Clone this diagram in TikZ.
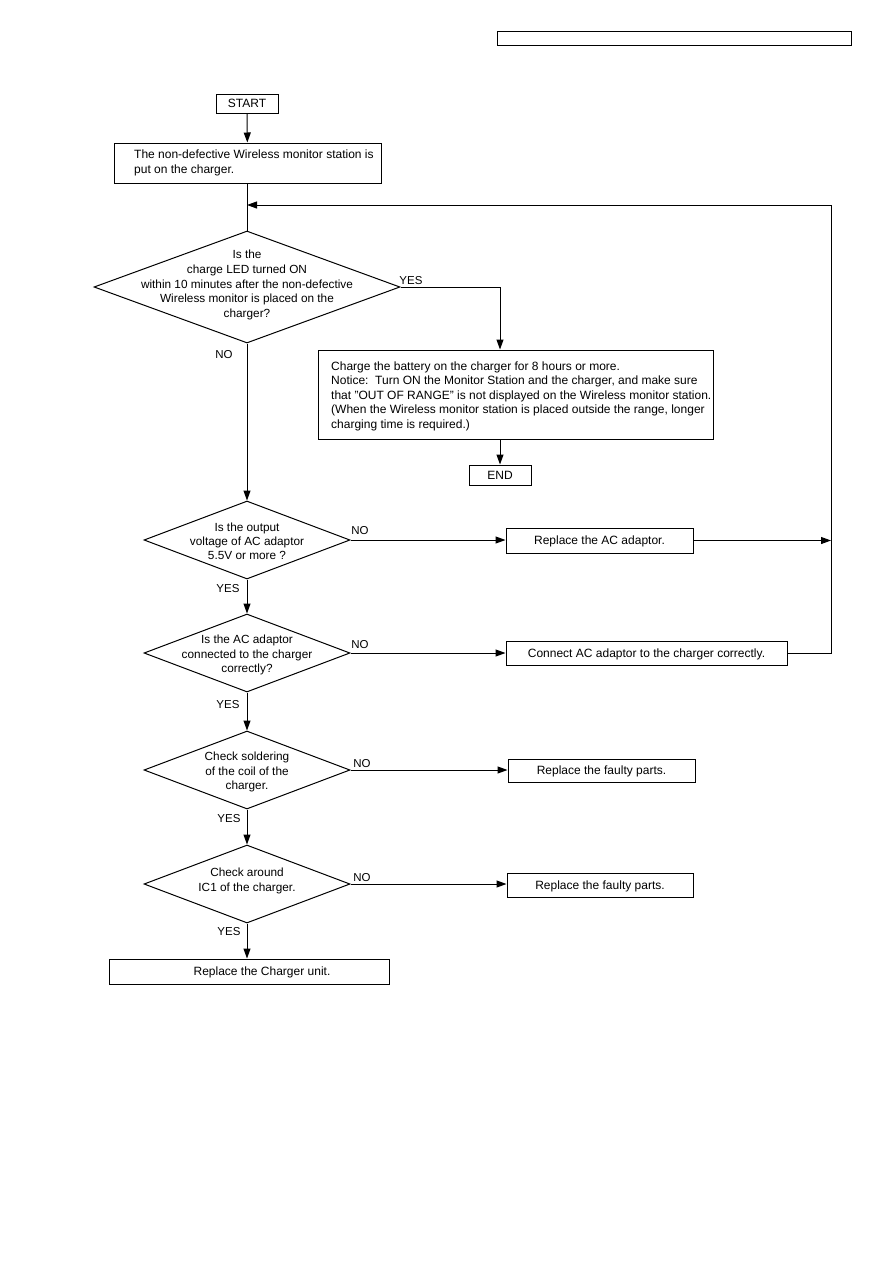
\documentclass[tikz,border=0pt]{standalone}
\usepackage{fontspec}
\setmainfont{Liberation Sans}
\usetikzlibrary{shapes.geometric,arrows.meta,calc}
\begin{document}
\begin{tikzpicture}[x=1pt,y=-1pt,
  every node/.style={font=\fontsize{12}{14.7}\selectfont, inner sep=0pt},
  box/.style={draw, line width=1pt, rectangle, inner sep=0pt, text height=8.6pt, text depth=0pt},
  dia/.style={draw, diamond, line width=1pt, inner sep=0pt},
  dtxt/.style={align=center, font=\fontsize{11.8}{14.2}\selectfont},
  lbl/.style={font=\fontsize{11.5}{13}\selectfont, text height=8.3pt, text depth=0pt},
  ln/.style={line width=1pt},
  arr/.style={line width=1pt, -{Triangle[length=10pt,width=7pt]}},
]
\useasboundingbox (0,0) rectangle (893,1263);

% header box
\node[box, minimum width=354, minimum height=14] (hdr) at (674,39) {};

% start and first box
\node[box, minimum width=62, minimum height=19] (start) at (247,103.5) {START};
\node[box, minimum width=267, minimum height=40] (b1) at (247.5,163) {};
\node[anchor=west, align=left] (b1t) at (134,163) {The non-defective Wireless monitor station is\\put on the charger.};

\coordinate (j1) at (247,205);
\coordinate (r1) at (831,205);

% decision 1
\node[dia, minimum width=306, minimum height=112] (d1) at (247,287) {};
\node[dtxt, font=\fontsize{11.8}{14.7}\selectfont] (d1t) at (247,285) {Is the\\charge LED turned ON\\within 10 minutes after the non-defective\\Wireless monitor is placed on the\\charger?};
\node[lbl] (yes1) at (411,280) {YES};
\node[lbl] (no1) at (224,354) {NO};
\coordinate (c1) at (500,287);

% charge box and end
\node[box, minimum width=395, minimum height=89] (b2) at (515.5,394.5) {};
\node[anchor=west, align=left, font=\fontsize{12}{14.5}\selectfont] (b2t) at (331,396) {Charge the battery on the charger for 8 hours or more.\\Notice:\ \ Turn ON the Monitor Station and the charger, and make sure\\that "OUT OF RANGE" is not displayed on the Wireless monitor station.\\(When the Wireless monitor station is placed outside the range, longer\\charging time is required.)};
\node[box, minimum width=62, minimum height=20] (end) at (500,475) {END};

% decision 2
\node[dia, minimum width=206, minimum height=78] (d2) at (247,540) {};
\node[dtxt] (d2t) at (247,541) {Is the output\\voltage of AC adaptor\\5.5V or more ?};
\node[lbl] (no2) at (360,530) {NO};
\node[lbl] (yes2) at (228,588) {YES};
\node[box, minimum width=187, minimum height=25] (rac) at (599.5,540.5) {Replace the AC adaptor.};
\coordinate (r2) at (831,540.5);

% decision 3
\node[dia, minimum width=206, minimum height=78] (d3) at (247,653) {};
\node[dtxt] (d3t) at (247,655) {Is the AC adaptor\\connected to the charger\\correctly?};
\node[lbl] (no3) at (360,644) {NO};
\node[lbl] (yes3) at (228,704) {YES};
\node[box, minimum width=281, minimum height=24] (cac) at (646.5,653) {Connect AC adaptor to the charger correctly.};

% decision 4
\node[dia, minimum width=206, minimum height=78] (d4) at (247,770) {};
\node[dtxt] (d4t) at (247,772) {Check soldering\\of the coil of the\\charger.};
\node[lbl] (no4) at (362,763) {NO};
\node[lbl] (yes4) at (229,818) {YES};
\node[box, minimum width=187, minimum height=23] (rf1) at (601.5,770.5) {Replace the faulty parts.};

% decision 5
\node[dia, minimum width=206, minimum height=78] (d5) at (247,884) {};
\node[dtxt] (d5t) at (247,881) {Check around\\IC1 of the charger.};
\node[lbl] (no5) at (362,877) {NO};
\node[lbl] (yes5) at (229,931) {YES};
\node[box, minimum width=186, minimum height=24] (rf2) at (600,885) {Replace the faulty parts.};

% final box
\node[box, minimum width=280, minimum height=25] (rcu) at (249,971.5) {};
\node[text height=8.6pt, text depth=0pt] (rcut) at (262,971.5) {Replace the Charger unit.};

% connectors
\draw[arr] (start) -- (b1);
\draw[ln] (d1.north |- b1.south) -- (d1.north);
\draw[arr] (cac.east) -- (r1 |- cac.east) -- (r1) -- (j1);
\draw[ln] (d1.east) -- (c1);
\draw[arr] (c1) -- (c1 |- b2.north);
\draw[arr] (end.north |- b2.south) -- (end.north);
\draw[arr] (d1.south) -- (d2.north);
\draw[arr] (d2.east) -- (d2.east -| rac.west);
\draw[arr] (rac.east) -- (r2);
\draw[arr] (d2.south) -- (d3.north);
\draw[arr] (d3.east) -- (d3.east -| cac.west);
\draw[arr] (d3.south) -- (d4.north);
\draw[arr] (d4.east) -- (d4.east -| rf1.west);
\draw[arr] (d4.south) -- (d5.north);
\draw[arr] (d5.east) -- (d5.east -| rf2.west);
\draw[arr] (d5.south) -- (d5.south |- rcu.north);
\end{tikzpicture}
\end{document}
